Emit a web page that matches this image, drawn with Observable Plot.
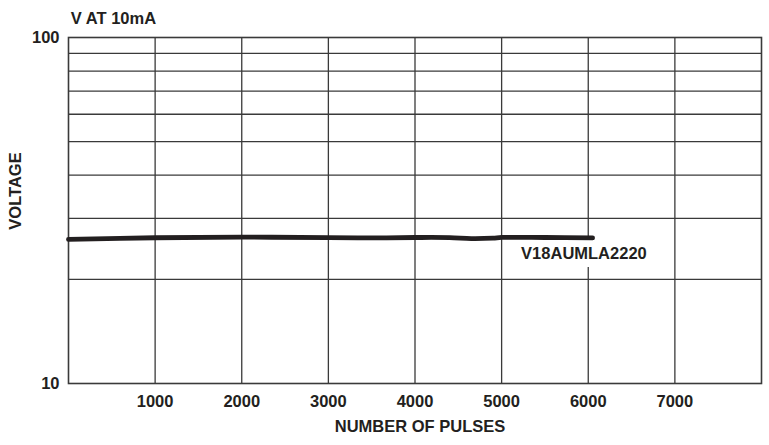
<!DOCTYPE html>
<html>
<head>
<meta charset="utf-8">
<script src="https://cdn.jsdelivr.net/npm/d3@7"></script>
<script src="https://cdn.jsdelivr.net/npm/@observablehq/plot@0.6"></script>
<style>
  html, body { margin: 0; padding: 0; background: #fff; }
  svg { display: block; }
</style>
</head>
<body>
<div id="chart"></div>
<script>
// Data
const pulses  = [0, 1000, 2000, 3000, 3500, 4000, 4400, 4650, 4900, 5000, 5500, 6050];
const voltage = [26.1, 26.38, 26.48, 26.4, 26.35, 26.42, 26.4, 26.22, 26.3, 26.43, 26.42, 26.35];
const xTicks = [1000, 2000, 3000, 4000, 5000, 6000, 7000];
const yGrid = [20, 30, 40, 50, 60, 70, 80, 90];
const yTicks = [10, 100];
const seriesName = "V18AUMLA2220";
const labelPos = {x: 5950, y: 23.74};
const title = "V AT 10mA";
const xTitle = "NUMBER OF PULSES";
const yTitle = "VOLTAGE";

const data = pulses.map((p, i) => ({x: p, y: voltage[i]}));
const ink = "#231f20";
const font = "'Liberation Sans', Arial, sans-serif";

const plot = Plot.plot({
  width: 769,
  height: 445,
  marginLeft: 68,
  marginRight: 8,
  marginTop: 37,
  marginBottom: 62,
  style: {fontFamily: font, fontSize: "16.5px", fontWeight: "bold", color: ink, background: "#fff"},
  x: {domain: [0, 8000]},
  y: {type: "log", domain: [10, 100]},
  marks: [
    Plot.ruleY(yGrid, {stroke: "#3a3a3a", strokeWidth: 1.3}),
    Plot.ruleX(xTicks, {stroke: "#3a3a3a", strokeWidth: 1.3}),
    Plot.frame({stroke: "#3a3a3a", strokeWidth: 1.6}),
    Plot.axisX({ticks: xTicks, tickSize: 0, tickPadding: 12, tickFormat: d => String(d), label: null, fill: ink}),
    Plot.axisY({ticks: yTicks, tickSize: 0, tickPadding: 9, tickFormat: d => String(d), label: null, fill: ink}),
    Plot.text([seriesName], {x: () => labelPos.x, y: () => labelPos.y, text: d => d, fill: ink, stroke: "white", strokeWidth: 16, paintOrder: "stroke", fontSize: 16.5, fontWeight: "bold"}),
    Plot.line(data, {x: "x", y: "y", stroke: ink, strokeWidth: 4.8, curve: "catmull-rom"}),
    Plot.text([title], {frameAnchor: "top-left", textAnchor: "start", lineAnchor: "middle", dx: 2.3, dy: -18.3, fill: ink, fontSize: 16.5, fontWeight: "bold"}),
    Plot.text([xTitle], {frameAnchor: "bottom", textAnchor: "middle", lineAnchor: "middle", dx: 5, dy: 43.3, fill: ink, fontSize: 16.5, fontWeight: "bold"}),
    Plot.text([yTitle], {frameAnchor: "left", textAnchor: "middle", lineAnchor: "middle", dx: -52.7, dy: -19.5, rotate: -90, fill: ink, fontSize: 16.5, fontWeight: "bold"})
  ]
});
document.getElementById("chart").appendChild(plot);
</script>
</body>
</html>
